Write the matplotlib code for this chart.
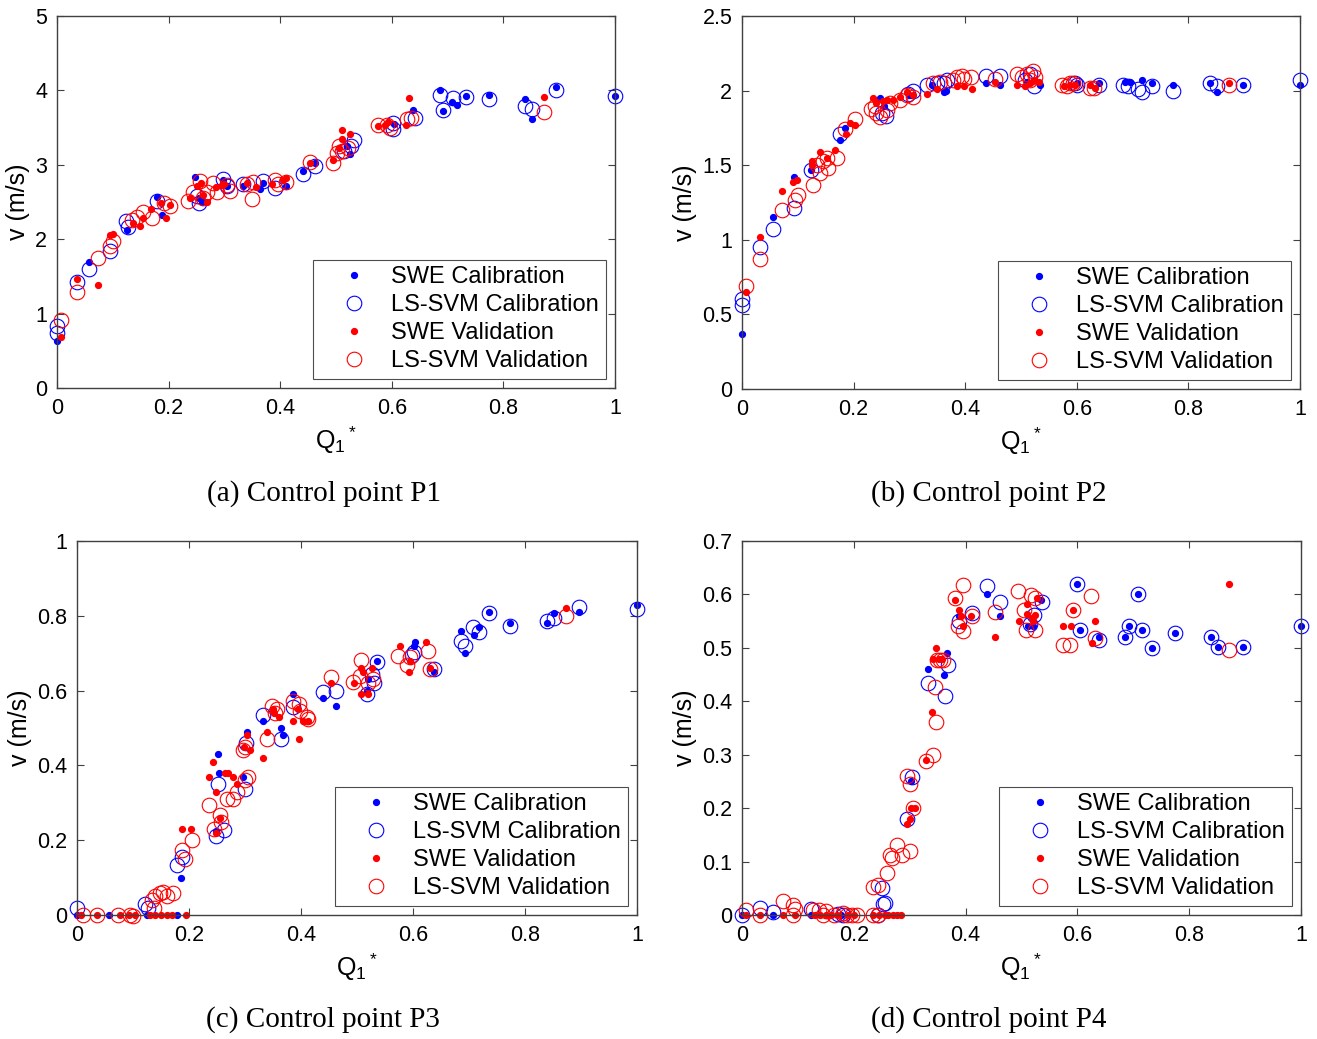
import matplotlib
matplotlib.use("Agg")
import matplotlib.pyplot as plt
from matplotlib.ticker import FormatStrFormatter, MultipleLocator

plt.rcParams['font.family'] = ['Liberation Sans', 'DejaVu Sans']
plt.rcParams['mathtext.default'] = 'regular'

# ---- Control point P1 ----
p1_swe_cal_x = [0.0, 0.058, 0.125, 0.179, 0.188, 0.247, 0.255, 0.26, 0.298, 0.305, 0.334, 0.363, 0.37, 0.41, 0.44, 0.462, 0.52, 0.525, 0.604, 0.638, 0.686, 0.692, 0.707, 0.717, 0.733, 0.774, 0.839, 0.852, 0.895, 1.0]
p1_swe_cal_y = [0.63, 1.70, 2.13, 2.57, 2.33, 2.84, 2.55, 2.50, 2.80, 2.72, 2.72, 2.68, 2.75, 2.72, 2.91, 3.02, 3.25, 3.15, 3.55, 3.74, 4.00, 3.72, 3.85, 3.80, 3.93, 3.94, 3.88, 3.62, 4.04, 3.92]
p1_svm_cal_x = [0.0, 0.0, 0.036, 0.058, 0.095, 0.124, 0.128, 0.179, 0.25, 0.255, 0.298, 0.305, 0.334, 0.37, 0.39, 0.44, 0.462, 0.515, 0.527, 0.532, 0.603, 0.603, 0.641, 0.686, 0.692, 0.710, 0.733, 0.774, 0.839, 0.851, 0.895, 1.0]
p1_svm_cal_y = [0.83, 0.74, 1.43, 1.60, 1.84, 2.24, 2.17, 2.51, 2.58, 2.49, 2.81, 2.71, 2.74, 2.78, 2.69, 2.87, 2.99, 3.18, 3.25, 3.34, 3.56, 3.48, 3.63, 3.94, 3.74, 3.90, 3.91, 3.88, 3.79, 3.75, 4.00, 3.92]
p1_swe_val_x = [0.008, 0.036, 0.074, 0.095, 0.101, 0.137, 0.148, 0.155, 0.168, 0.186, 0.196, 0.203, 0.238, 0.25, 0.258, 0.268, 0.262, 0.285, 0.295, 0.30, 0.34, 0.357, 0.385, 0.405, 0.41, 0.453, 0.495, 0.51, 0.51, 0.525, 0.505, 0.576, 0.588, 0.594, 0.63, 0.626, 0.872]
p1_swe_val_y = [0.69, 1.46, 1.38, 2.06, 2.07, 2.22, 2.18, 2.29, 2.40, 2.49, 2.29, 2.46, 2.55, 2.71, 2.75, 2.50, 2.60, 2.70, 2.73, 2.74, 2.75, 2.70, 2.74, 2.80, 2.82, 3.02, 3.06, 3.47, 3.35, 3.41, 3.22, 3.52, 3.54, 3.57, 3.90, 3.54, 3.91]
p1_svm_val_x = [0.008, 0.036, 0.074, 0.095, 0.101, 0.134, 0.143, 0.155, 0.170, 0.191, 0.203, 0.235, 0.244, 0.256, 0.268, 0.262, 0.286, 0.28, 0.31, 0.304, 0.35, 0.352, 0.34, 0.39, 0.396, 0.41, 0.453, 0.495, 0.506, 0.502, 0.51, 0.522, 0.576, 0.591, 0.597, 0.627, 0.635, 0.872]
p1_svm_val_y = [0.91, 1.29, 1.75, 1.91, 1.97, 2.26, 2.30, 2.36, 2.28, 2.49, 2.44, 2.51, 2.63, 2.78, 2.63, 2.55, 2.63, 2.76, 2.65, 2.73, 2.54, 2.77, 2.74, 2.80, 2.74, 2.77, 3.04, 3.02, 3.25, 3.16, 3.18, 3.22, 3.53, 3.53, 3.50, 3.62, 3.63, 3.71]

# ---- Control point P2 ----
p2_swe_cal_x = [0.0, 0.056, 0.093, 0.124, 0.176, 0.185, 0.247, 0.255, 0.30, 0.34, 0.362, 0.366, 0.438, 0.462, 0.51, 0.534, 0.600, 0.639, 0.686, 0.695, 0.716, 0.734, 0.773, 0.839, 0.852, 0.898, 1.0]
p2_swe_cal_y = [0.37, 1.15, 1.42, 1.47, 1.67, 1.75, 1.95, 1.90, 1.97, 2.04, 1.99, 2.00, 2.05, 2.04, 2.06, 2.04, 2.05, 2.05, 2.06, 2.06, 2.07, 2.05, 2.04, 2.05, 1.99, 2.04, 2.04]
p2_svm_cal_x = [0.0, 0.0, 0.033, 0.056, 0.093, 0.124, 0.176, 0.25, 0.258, 0.297, 0.306, 0.331, 0.35, 0.368, 0.362, 0.438, 0.462, 0.507, 0.516, 0.524, 0.597, 0.600, 0.639, 0.683, 0.692, 0.710, 0.716, 0.734, 0.773, 0.839, 0.852, 0.898, 1.0]
p2_svm_cal_y = [0.60, 0.56, 0.95, 1.07, 1.21, 1.47, 1.71, 1.85, 1.83, 1.98, 2.00, 2.04, 2.05, 2.07, 2.05, 2.10, 2.10, 2.07, 2.11, 2.03, 2.05, 2.04, 2.04, 2.04, 2.03, 2.01, 1.99, 2.03, 2.00, 2.05, 2.03, 2.04, 2.07]
p2_swe_val_x = [0.007, 0.033, 0.072, 0.092, 0.099, 0.125, 0.125, 0.140, 0.152, 0.167, 0.187, 0.194, 0.203, 0.235, 0.241, 0.253, 0.259, 0.271, 0.283, 0.295, 0.307, 0.331, 0.349, 0.385, 0.397, 0.412, 0.453, 0.492, 0.508, 0.517, 0.523, 0.532, 0.577, 0.588, 0.597, 0.624, 0.632, 0.872]
p2_swe_val_y = [0.65, 1.02, 1.33, 1.39, 1.40, 1.50, 1.53, 1.59, 1.55, 1.60, 1.71, 1.78, 1.77, 1.95, 1.92, 1.93, 1.94, 1.94, 1.96, 1.99, 1.97, 1.98, 2.01, 2.03, 2.03, 2.01, 2.06, 2.04, 2.03, 2.05, 2.07, 2.06, 2.03, 2.04, 2.04, 2.04, 2.02, 2.05]
p2_svm_val_x = [0.007, 0.033, 0.072, 0.095, 0.101, 0.127, 0.134, 0.146, 0.152, 0.140, 0.155, 0.170, 0.185, 0.203, 0.232, 0.241, 0.247, 0.238, 0.259, 0.265, 0.283, 0.295, 0.307, 0.343, 0.355, 0.385, 0.394, 0.411, 0.397, 0.378, 0.453, 0.492, 0.501, 0.510, 0.522, 0.525, 0.516, 0.573, 0.582, 0.588, 0.594, 0.624, 0.630, 0.872]
p2_svm_val_y = [0.69, 0.87, 1.20, 1.27, 1.30, 1.37, 1.50, 1.53, 1.55, 1.45, 1.48, 1.55, 1.74, 1.81, 1.88, 1.85, 1.82, 1.90, 1.87, 1.92, 1.94, 1.97, 1.96, 2.05, 2.06, 2.09, 2.10, 2.09, 2.08, 2.07, 2.08, 2.11, 2.09, 2.11, 2.13, 2.09, 2.07, 2.04, 2.03, 2.05, 2.05, 2.02, 2.02, 2.04]

# ---- Control point P3 ----
p3_swe_cal_x = [0.0, 0.058, 0.125, 0.179, 0.186, 0.252, 0.254, 0.249, 0.297, 0.304, 0.333, 0.364, 0.368, 0.386, 0.44, 0.463, 0.517, 0.52, 0.536, 0.604, 0.601, 0.637, 0.686, 0.693, 0.709, 0.717, 0.735, 0.774, 0.839, 0.852, 0.897, 1.0]
p3_swe_cal_y = [0.0, 0.0, 0.0, 0.0, 0.10, 0.43, 0.38, 0.225, 0.37, 0.49, 0.52, 0.50, 0.48, 0.59, 0.58, 0.56, 0.60, 0.63, 0.68, 0.73, 0.72, 0.65, 0.76, 0.70, 0.75, 0.771, 0.81, 0.78, 0.78, 0.808, 0.81, 0.83]
p3_svm_cal_x = [0.0, 0.121, 0.127, 0.178, 0.187, 0.252, 0.249, 0.262, 0.30, 0.302, 0.333, 0.365, 0.386, 0.44, 0.463, 0.517, 0.526, 0.536, 0.530, 0.601, 0.598, 0.637, 0.686, 0.692, 0.708, 0.717, 0.735, 0.774, 0.839, 0.852, 0.897, 1.0]
p3_svm_cal_y = [0.02, 0.03, 0.02, 0.134, 0.156, 0.35, 0.21, 0.227, 0.336, 0.46, 0.535, 0.47, 0.557, 0.597, 0.599, 0.59, 0.645, 0.677, 0.62, 0.702, 0.695, 0.658, 0.733, 0.72, 0.77, 0.758, 0.808, 0.773, 0.787, 0.793, 0.824, 0.817]
p3_swe_val_x = [0.008, 0.035, 0.077, 0.092, 0.103, 0.13, 0.14, 0.15, 0.16, 0.17, 0.195, 0.187, 0.204, 0.236, 0.242, 0.248, 0.255, 0.248, 0.264, 0.27, 0.279, 0.286, 0.298, 0.303, 0.309, 0.333, 0.339, 0.350, 0.351, 0.36, 0.386, 0.395, 0.397, 0.404, 0.413, 0.453, 0.494, 0.508, 0.511, 0.508, 0.52, 0.527, 0.576, 0.592, 0.594, 0.624, 0.631, 0.873]
p3_swe_val_y = [0.0, 0.0, 0.0, 0.0, 0.0, 0.0, 0.0, 0.0, 0.0, 0.0, 0.0, 0.23, 0.23, 0.37, 0.41, 0.33, 0.26, 0.22, 0.38, 0.38, 0.37, 0.35, 0.45, 0.48, 0.44, 0.42, 0.49, 0.55, 0.54, 0.53, 0.52, 0.55, 0.47, 0.52, 0.52, 0.62, 0.62, 0.66, 0.65, 0.59, 0.59, 0.66, 0.72, 0.65, 0.68, 0.73, 0.66, 0.82]
p3_svm_val_x = [0.01, 0.035, 0.074, 0.095, 0.1, 0.134, 0.14, 0.148, 0.154, 0.16, 0.172, 0.138, 0.187, 0.193, 0.205, 0.236, 0.245, 0.255, 0.258, 0.267, 0.279, 0.286, 0.296, 0.300, 0.306, 0.300, 0.339, 0.349, 0.353, 0.358, 0.386, 0.397, 0.398, 0.41, 0.413, 0.453, 0.492, 0.508, 0.505, 0.520, 0.529, 0.574, 0.589, 0.595, 0.626, 0.630, 0.873]
p3_svm_val_y = [0.0, 0.0, 0.0, 0.0, -0.003, 0.04, 0.05, 0.058, 0.062, 0.05, 0.058, 0.02, 0.174, 0.15, 0.20, 0.294, 0.23, 0.267, 0.25, 0.31, 0.31, 0.33, 0.44, 0.45, 0.37, 0.36, 0.47, 0.56, 0.54, 0.55, 0.571, 0.565, 0.545, 0.53, 0.525, 0.637, 0.624, 0.682, 0.64, 0.62, 0.63, 0.693, 0.669, 0.69, 0.707, 0.657, 0.80]

# ---- Control point P4 ----
p4_swe_cal_x = [0.0, 0.056, 0.123, 0.177, 0.303, 0.332, 0.361, 0.367, 0.389, 0.438, 0.462, 0.512, 0.52, 0.534, 0.60, 0.604, 0.638, 0.685, 0.693, 0.709, 0.716, 0.733, 0.774, 0.839, 0.851, 0.897, 1.0]
p4_swe_cal_y = [0.0, 0.0, 0.0, 0.0, 0.25, 0.46, 0.45, 0.49, 0.56, 0.60, 0.56, 0.54, 0.54, 0.59, 0.62, 0.533, 0.521, 0.521, 0.541, 0.601, 0.533, 0.499, 0.528, 0.52, 0.502, 0.501, 0.54]
p4_svm_cal_x = [0.0, 0.033, 0.056, 0.123, 0.171, 0.18, 0.244, 0.25, 0.256, 0.252, 0.296, 0.305, 0.332, 0.363, 0.369, 0.389, 0.411, 0.438, 0.462, 0.515, 0.522, 0.536, 0.60, 0.604, 0.638, 0.685, 0.693, 0.709, 0.716, 0.733, 0.774, 0.839, 0.851, 0.897, 1.0]
p4_svm_cal_y = [0.0, 0.014, 0.006, 0.012, 0.002, 0.0, 0.0, 0.051, 0.022, 0.02, 0.179, 0.258, 0.435, 0.41, 0.468, 0.55, 0.565, 0.615, 0.585, 0.545, 0.562, 0.586, 0.619, 0.533, 0.515, 0.521, 0.541, 0.601, 0.533, 0.499, 0.528, 0.52, 0.502, 0.501, 0.54]
p4_swe_val_x = [0.007, 0.033, 0.073, 0.095, 0.13, 0.14, 0.15, 0.16, 0.17, 0.19, 0.2, 0.235, 0.245, 0.255, 0.262, 0.27, 0.278, 0.285, 0.296, 0.30, 0.302, 0.31, 0.329, 0.339, 0.341, 0.347, 0.352, 0.357, 0.381, 0.389, 0.392, 0.396, 0.410, 0.453, 0.496, 0.509, 0.509, 0.518, 0.521, 0.525, 0.527, 0.575, 0.588, 0.593, 0.632, 0.626, 0.872]
p4_swe_val_y = [0.0, 0.0, 0.0, 0.0, 0.0, 0.0, 0.0, 0.0, 0.0, 0.0, 0.0, 0.0, 0.0, 0.0, 0.0, 0.0, 0.0, 0.0, 0.17, 0.18, 0.20, 0.20, 0.29, 0.38, 0.48, 0.50, 0.48, 0.48, 0.59, 0.571, 0.56, 0.54, 0.56, 0.52, 0.55, 0.583, 0.563, 0.555, 0.55, 0.562, 0.593, 0.54, 0.54, 0.571, 0.55, 0.51, 0.62]
p4_svm_val_x = [0.007, 0.033, 0.073, 0.092, 0.095, 0.092, 0.127, 0.138, 0.150, 0.145, 0.165, 0.18, 0.188, 0.196, 0.205, 0.235, 0.243, 0.235, 0.244, 0.26, 0.268, 0.265, 0.277, 0.286, 0.300, 0.295, 0.3, 0.306, 0.329, 0.341, 0.347, 0.345, 0.348, 0.354, 0.36, 0.381, 0.395, 0.387, 0.395, 0.411, 0.453, 0.494, 0.505, 0.508, 0.517, 0.524, 0.525, 0.575, 0.587, 0.593, 0.625, 0.632, 0.872]
p4_svm_val_y = [0.01, 0.0, 0.026, 0.019, 0.012, 0.0, 0.009, 0.009, 0.008, 0.0, 0.0, 0.003, 0.0, 0.0, 0.0, 0.0, 0.0, 0.052, 0.056, 0.079, 0.106, 0.112, 0.131, 0.112, 0.12, 0.26, 0.246, 0.20, 0.289, 0.30, 0.362, 0.427, 0.477, 0.477, 0.477, 0.593, 0.618, 0.54, 0.531, 0.56, 0.568, 0.607, 0.57, 0.533, 0.598, 0.593, 0.534, 0.505, 0.506, 0.571, 0.597, 0.518, 0.496]

panels = [
    ((p1_swe_cal_x, p1_swe_cal_y), (p1_svm_cal_x, p1_svm_cal_y), (p1_swe_val_x, p1_swe_val_y), (p1_svm_val_x, p1_svm_val_y), 5, 1, '(a) Control point P1'),
    ((p2_swe_cal_x, p2_swe_cal_y), (p2_svm_cal_x, p2_svm_cal_y), (p2_swe_val_x, p2_swe_val_y), (p2_svm_val_x, p2_svm_val_y), 2.5, 0.5, '(b) Control point P2'),
    ((p3_swe_cal_x, p3_swe_cal_y), (p3_svm_cal_x, p3_svm_cal_y), (p3_swe_val_x, p3_swe_val_y), (p3_svm_val_x, p3_svm_val_y), 1, 0.2, '(c) Control point P3'),
    ((p4_swe_cal_x, p4_swe_cal_y), (p4_svm_cal_x, p4_svm_cal_y), (p4_swe_val_x, p4_swe_val_y), (p4_svm_val_x, p4_svm_val_y), 0.7, 0.1, '(d) Control point P4'),
]

W, H = 1317, 1039
# axes boxes in pixels: left, top, right, bottom
boxes = [(57, 16, 615, 388), (742, 16, 1300, 389), (77, 541, 637, 915), (742, 541, 1301, 915)]
caption_pos = [(324, 494), (989, 494), (323, 1020), (989, 1020)]

fig = plt.figure(figsize=(W / 100, H / 100), dpi=100)

for (swe_c, svm_c, swe_v, svm_v, ymax, ystep, caption), box, cp in zip(panels, boxes, caption_pos):
    l, t, r, b = box
    ax = fig.add_axes([l / W, 1 - b / H, (r - l) / W, (b - t) / H])
    ax.plot(swe_c[0], swe_c[1], 'o', color='blue', ms=4.2, ls='none', clip_on=False, label='SWE Calibration')
    ax.plot(svm_c[0], svm_c[1], 'o', mfc='none', mec='blue', mew=0.8, ms=10.5, ls='none', clip_on=False, label='LS-SVM Calibration')
    ax.plot(swe_v[0], swe_v[1], 'o', color='red', ms=4.2, ls='none', clip_on=False, label='SWE Validation')
    ax.plot(svm_v[0], svm_v[1], 'o', mfc='none', mec='red', mew=0.8, ms=10.5, ls='none', clip_on=False, label='LS-SVM Validation')

    ax.set_xlim(0, 1)
    ax.set_ylim(0, ymax)
    ax.xaxis.set_major_locator(MultipleLocator(0.2))
    ax.yaxis.set_major_locator(MultipleLocator(ystep))
    ax.xaxis.set_major_formatter(FormatStrFormatter('%g'))
    ax.yaxis.set_major_formatter(FormatStrFormatter('%g'))
    ax.tick_params(direction='in', top=True, right=True, length=5, width=0.8,
                   color='#404040', labelsize=15.5, pad=7)
    for s in ax.spines.values():
        s.set_color('#404040')
        s.set_linewidth(1.0)
    ax.set_xlabel(r'Q$_1$$^*$', fontsize=18, labelpad=4)
    ax.set_ylabel('v (m/s)', fontsize=18, labelpad=4)

    leg = ax.legend(loc='lower right', fontsize=17, frameon=True, fancybox=False,
                    edgecolor='#202020', borderaxespad=0.4, handlelength=3.0,
                    handletextpad=0.07, labelspacing=0.25, borderpad=0.27)
    leg.get_frame().set_linewidth(0.8)

    fig.text(cp[0] / W, 1 - cp[1] / H, caption, ha='center', va='center',
             fontsize=21, family=['Liberation Serif', 'DejaVu Serif'])

fig.savefig('out.png', dpi=100)
